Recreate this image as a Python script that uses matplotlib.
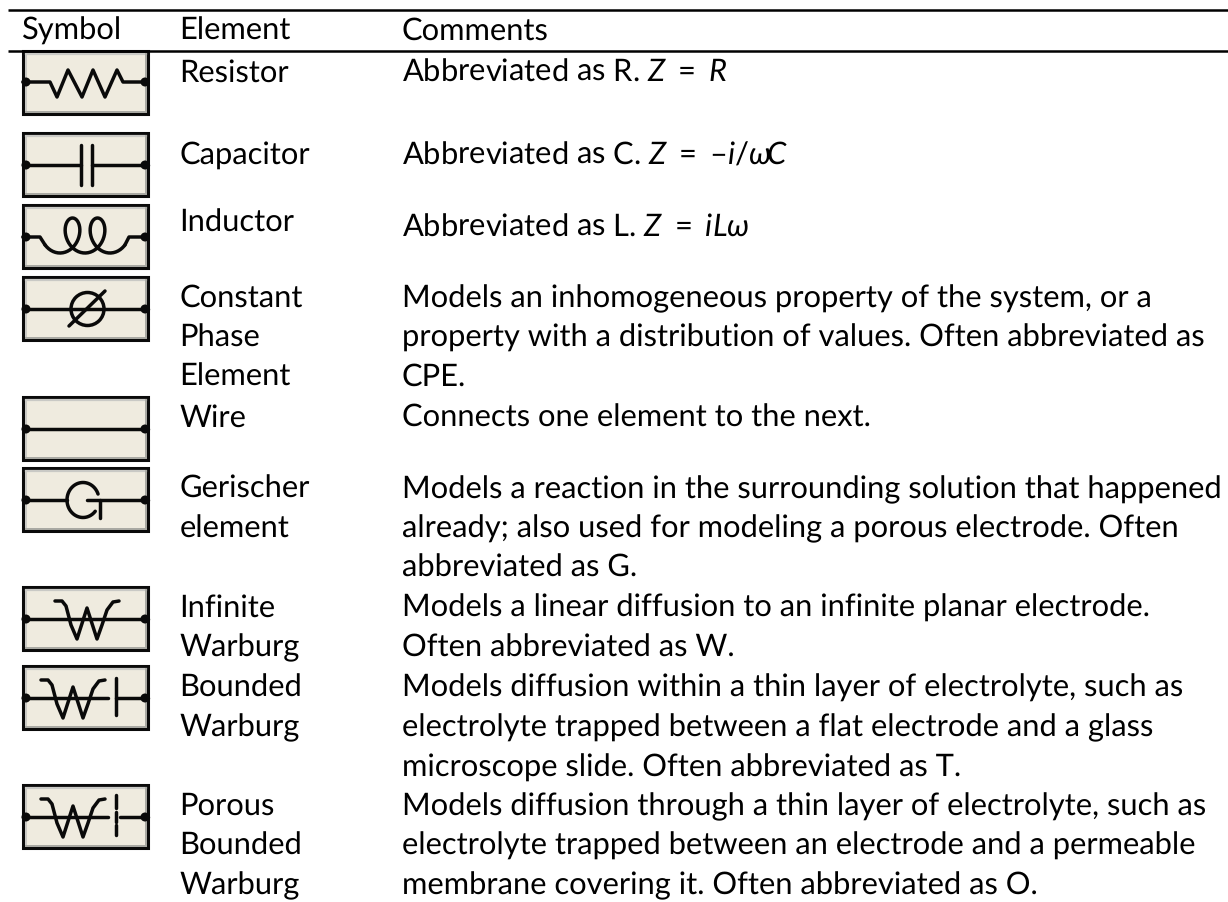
import numpy as np
import matplotlib
matplotlib.use("Agg")
import matplotlib.pyplot as plt
from matplotlib.patches import Rectangle, Circle

plt.rcParams['font.family'] = ['Lato', 'DejaVu Sans']
plt.rcParams['mathtext.fontset'] = 'custom'
plt.rcParams['mathtext.rm'] = 'Lato'
plt.rcParams['mathtext.it'] = 'Lato:italic'
plt.rcParams['text.hinting'] = 'no_hinting'

headers = ["Symbol", "Element", "Comments"]
icons = ["resistor", "capacitor", "inductor", "cpe", "wire", "gerischer", "warburg", "bounded", "porous"]
icon_tops = [51, 133, 205, 277, 397, 468, 587, 666, 785]
elements = [
    ["Resistor"], ["Capacitor"], ["Inductor"],
    ["Constant", "Phase", "Element"], ["Wire"],
    ["Gerischer", "element"], ["Infinite", "Warburg"],
    ["Bounded", "Warburg"], ["Porous", "Bounded", "Warburg"],
]
comments = [
    ["Abbreviated as R. $Z\\ =\\ R$"],
    ["Abbreviated as C. $Z\\ =\\ $\u2013$i$/$\\omega\\!C$"],
    ["Abbreviated as L. $Z\\ =\\ iL\\omega$"],
    ["Models an inhomogeneous property of the system, or a",
     "property with a distribution of values. Often abbreviated as",
     "CPE."],
    ["Connects one element to the next."],
    ["Models a reaction in the surrounding solution that happened",
     "already; also used for modeling a porous electrode. Often",
     "abbreviated as G."],
    ["Models a linear diffusion to an infinite planar electrode.",
     "Often abbreviated as W."],
    ["Models diffusion within a thin layer of electrolyte, such as",
     "electrolyte trapped between a flat electrode and a glass",
     "microscope slide. Often abbreviated as T."],
    ["Models diffusion through a thin layer of electrolyte, such as",
     "electrolyte trapped between an electrode and a permeable",
     "membrane covering it. Often abbreviated as O."],
]
element_base = [82, 164, 232, 307, 427, 498, 617, 697, 815]
comment_base = [82, 165, 237, 307, 427, 498, 617, 697, 815]

FONT = 22.2
LINE = 39.6
BOX_L, BOX_W, BOX_H = 23, 125, 63
INK = "#0a0a0a"

fig = plt.figure(figsize=(12.28, 9.02), dpi=100)
ax = fig.add_axes([0, 0, 1, 1])
ax.set_xlim(0, 1228)
ax.set_ylim(902, 0)
ax.axis("off")


def stroke(ax, x, y, lw=2.5):
    ax.plot(x, y, color=INK, lw=lw, solid_capstyle="round", solid_joinstyle="round", zorder=4)


def draw_w(ax, left, mid):
    # the Warburg W with its curled ends
    xs = left + np.array([0, 7, 11, 16, 22, 32, 42, 47, 52, 58, 64])
    ys = mid + np.array([-18, -18, -13, 6, 20, -11, 20, 6, -9, -17, -18])
    stroke(ax, xs, ys)


def draw_icon(ax, kind, top):
    right = BOX_L + BOX_W
    bottom = top + BOX_H
    ax.add_patch(Rectangle((BOX_L, top), BOX_W, BOX_H, fc="#efebdf", ec=INK, lw=2.2, zorder=2))
    ax.plot([BOX_L + 3, right - 2], [top + 3, top + 3], color="#c9c9c5", lw=1.6, zorder=3)
    ax.plot([BOX_L + 3, BOX_L + 3], [top + 3, bottom - 2], color="#c9c9c5", lw=1.4, zorder=3)
    ax.plot([right - 2, right - 2], [top + 3, bottom - 2], color="#a8a8a2", lw=1.4, zorder=3)
    ax.plot([BOX_L + 3, right - 2], [bottom - 2, bottom - 2], color="#a8a8a2", lw=1.4, zorder=3)
    mid = top + 32
    if kind == "resistor":
        mid = top + 31
    l, r = BOX_L, right
    for x in (l + 3, r - 3):
        ax.add_patch(Circle((x, mid), 4.5, fc=INK, ec="none", zorder=5))
    if kind == "resistor":
        xs = [l, 50, 57, 68, 82, 93, 105, 117, 123, r]
        ys = [mid, mid, mid + 15, mid - 12, mid + 15, mid - 12, mid + 15, mid - 12, mid, mid]
        stroke(ax, xs, ys)
    elif kind == "capacitor":
        stroke(ax, [l, 81], [mid, mid])
        stroke(ax, [92, r], [mid, mid])
        stroke(ax, [81, 81], [mid - 20, mid + 20])
        stroke(ax, [92, 92], [mid - 20, mid + 20])
    elif kind == "inductor":
        t = np.linspace(-1.0, 4 * np.pi + 1.0, 200)
        xs = 60 + 3.98 * t + 13 * np.sin(t)
        ys = mid - 1.5 + 17.5 * np.cos(t)
        stroke(ax, [l, 40, xs[0]], [mid, mid, ys[0]])
        stroke(ax, xs, ys)
        stroke(ax, [xs[-1], 129, r], [ys[-1], mid, mid])
    elif kind == "cpe":
        stroke(ax, [l, r], [mid, mid])
        ax.add_patch(Circle((87.5, mid), 16.5, fc="none", ec=INK, lw=2.5, zorder=4))
        stroke(ax, [69, 105], [mid + 17, mid - 18])
    elif kind == "wire":
        stroke(ax, [l, r], [mid, mid])
    elif kind == "gerischer":
        stroke(ax, [l, 67], [mid, mid])
        stroke(ax, [87, r], [mid, mid])
        t = np.radians(np.linspace(20, 320, 60))
        stroke(ax, 83 + 16 * np.cos(t), mid - 17.5 * np.sin(t))
        stroke(ax, [99.5, 99.5], [mid, mid + 18])
    elif kind == "warburg":
        stroke(ax, [l, r], [mid, mid])
        draw_w(ax, 55, mid)
    elif kind == "bounded":
        stroke(ax, [l, 108], [mid, mid])
        draw_w(ax, 41, mid)
        stroke(ax, [116, r], [mid, mid])
        stroke(ax, [116, 116], [mid - 20, mid + 17])
    elif kind == "porous":
        stroke(ax, [l, 108], [mid, mid])
        draw_w(ax, 41, mid)
        stroke(ax, [120, r], [mid, mid])
        stroke(ax, [116, 116], [mid - 22, mid - 9])
        stroke(ax, [116, 116], [mid - 5, mid + 5])
        stroke(ax, [116, 116], [mid + 8, mid + 18])


ax.plot([8, 1228], [10, 10], color="black", lw=1.8, solid_capstyle="butt")
ax.plot([8, 1228], [51, 51], color="black", lw=1.8, solid_capstyle="butt", zorder=6)
for x, h in zip([21.5, 179.5, 402], headers):
    ax.text(x, 40, h, fontsize=FONT, va="baseline", color="black")

for kind, top in zip(icons, icon_tops):
    draw_icon(ax, kind, top)

for names, notes, y1, y2 in zip(elements, comments, element_base, comment_base):
    for i, s in enumerate(names):
        ax.text(179.5, y1 + i * LINE, s, fontsize=FONT, va="baseline", color="black")
    for i, s in enumerate(notes):
        ax.text(402, y2 + i * LINE, s, fontsize=FONT, va="baseline", color="black")

fig.savefig("out.png", dpi=100)
